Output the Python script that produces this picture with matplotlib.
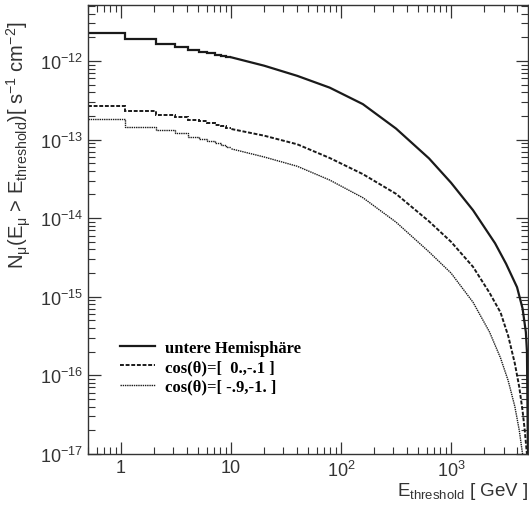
import numpy as np
import matplotlib
matplotlib.use("Agg")
import matplotlib.pyplot as plt
from matplotlib.ticker import LogLocator, NullFormatter, FixedLocator

plt.rcParams["font.family"] = ["Liberation Sans", "DejaVu Sans"]
plt.rcParams["mathtext.fontset"] = "custom"
plt.rcParams["mathtext.rm"] = "Liberation Sans"
plt.rcParams["mathtext.it"] = "Liberation Sans"

# histogram part (low energies): bin edges in GeV and flux per bin
step_edges = [0.5, 1.1, 2.1, 3.1, 4.1, 5.1, 6.1, 7.1, 8.1, 9.1, 10.1]
solid_steps = [2.28e-12, 1.88e-12, 1.63e-12, 1.50e-12, 1.39e-12, 1.31e-12, 1.26e-12, 1.20e-12, 1.16e-12, 1.12e-12]
dashed_steps = [2.69e-13, 2.33e-13, 2.07e-13, 1.91e-13, 1.79e-13, 1.70e-13, 1.62e-13, 1.55e-13, 1.48e-13, 1.41e-13]
dotted_steps = [1.83e-13, 1.46e-13, 1.33e-13, 1.20e-13, 1.09e-13, 1.02e-13, 9.7e-14, 9.1e-14, 8.6e-14, 8.1e-14]

# smooth part (higher energies)
solid_E = [10.1, 20, 40, 79, 158, 316, 631, 1000, 1585, 2512, 3162, 3981, 4467, 4786, 4898, 5000]
solid_N = [1.11e-12, 8.7e-13, 6.46e-13, 4.57e-13, 2.82e-13, 1.38e-13, 5.75e-14, 2.82e-14,
           1.26e-14, 4.79e-15, 2.63e-15, 1.32e-15, 7.1e-16, 3.55e-16, 2.0e-16, 1.0e-17]
dashed_E = [10.1, 20, 40, 79, 158, 316, 631, 1000, 1585, 2239, 2818, 3311, 3802, 4169, 4467, 4677, 4819, 4898]
dashed_N = [1.36e-13, 1.12e-13, 8.7e-14, 5.82e-14, 3.63e-14, 2.04e-14, 9.1e-15, 5.0e-15, 2.40e-15,
            1.12e-15, 6.3e-16, 3.16e-16, 1.41e-16, 7.1e-17, 3.55e-17, 2.0e-17, 1.26e-17, 1.0e-17]
dotted_E = [10.1, 20, 40, 79, 158, 316, 631, 1000, 1585, 2239, 2818, 3311, 3802, 4169, 4416, 4519]
dotted_N = [7.6e-14, 6.0e-14, 4.57e-14, 3.05e-14, 1.82e-14, 8.9e-15, 3.72e-15, 2.0e-15,
            8.5e-16, 3.55e-16, 1.66e-16, 8.5e-17, 4.0e-17, 2.0e-17, 1.12e-17, 8.9e-18]

labels = ["untere Hemisphäre", "cos(\u03b8)=[  0.,-.1 ]", "cos(\u03b8)=[ -.9,-1. ]"]

fig = plt.figure(figsize=(5.29, 5.10), dpi=100)
ax = fig.add_axes([0.166, 0.108, 0.832, 0.880])

styles = [dict(color="#1a1a1a", linewidth=1.6, linestyle="-"),
          dict(color="#1a1a1a", linewidth=1.4, linestyle=(0, (2.0, 0.9))),
          dict(color="#1a1a1a", linewidth=1.0, linestyle=(0, (1.0, 0.6)))]

for steps, E, N, st, lab in zip([solid_steps, dashed_steps, dotted_steps],
                                [solid_E, dashed_E, dotted_E],
                                [solid_N, dashed_N, dotted_N], styles, labels):
    ax.stairs(steps, step_edges, baseline=None, **st)
    ax.plot(E, N, label=lab, **st)

ax.set_xscale("log")
ax.set_yscale("log")
ax.set_xlim(0.5, 5000)
ax.set_ylim(1e-17, 10 ** -11.29)

ax.xaxis.set_major_locator(FixedLocator([1, 10, 100, 1000]))
ax.xaxis.set_minor_locator(LogLocator(base=10, subs=np.arange(2, 10), numticks=20))
ax.xaxis.set_minor_formatter(NullFormatter())
ax.set_xticklabels(["1", "10", "$10^{2}$", "$10^{3}$"])
ax.yaxis.set_major_locator(FixedLocator([1e-17, 1e-16, 1e-15, 1e-14, 1e-13, 1e-12]))
ax.yaxis.set_minor_locator(LogLocator(base=10, subs=np.arange(2, 10), numticks=20))
ax.yaxis.set_minor_formatter(NullFormatter())
ax.set_yticklabels(["$10^{-17}$", "$10^{-16}$", "$10^{-15}$", "$10^{-14}$", "$10^{-13}$", "$10^{-12}$"])

ax.tick_params(which="both", direction="in", top=True, right=True, labelsize=13, colors="#333333")
ax.tick_params(which="major", length=9, width=0.9)
ax.tick_params(which="minor", length=5, width=0.8)
ax.tick_params(axis="x", pad=4)
for sp in ax.spines.values():
    sp.set_color("#333333")
    sp.set_linewidth(1.0)

fig.text(0.035, 0.715, r"N$_{\mu}$(E$_{\mu}$ > E$_{\rm threshold}$)[ s$^{-1}$ cm$^{-2}$]",
         rotation=90, ha="center", va="center", fontsize=14.5, color="#333333")
fig.text(0.998, 0.016, r"E$_{\rm threshold}$ [ GeV ]", ha="right", va="bottom",
         fontsize=13.5, color="#333333")

leg = ax.legend(loc="upper left", bbox_to_anchor=(0.058, 0.269), frameon=False, borderaxespad=0,
                handlelength=2.1, handletextpad=0.6, labelspacing=0.2,
                prop={"family": "Liberation Serif", "weight": "bold", "size": 12})

fig.savefig("out.png", dpi=100)
